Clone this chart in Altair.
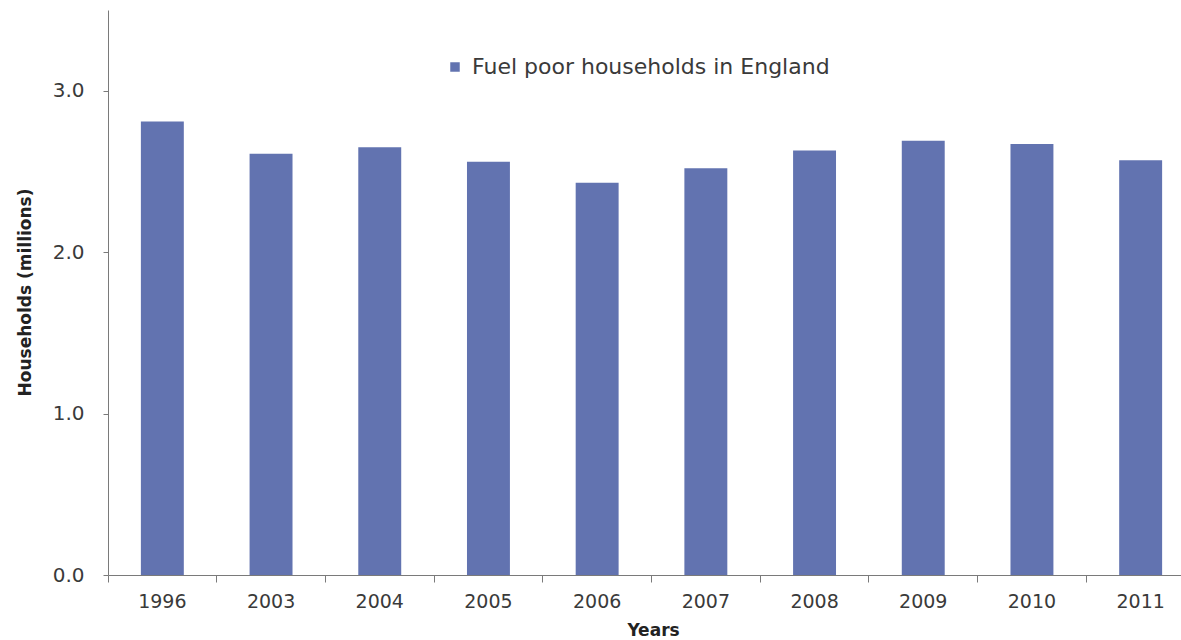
import altair as alt
import pandas as pd

years = ["1996", "2003", "2004", "2005", "2006", "2007", "2008", "2009", "2010", "2011"]
households = [2.81, 2.61, 2.65, 2.56, 2.43, 2.52, 2.63, 2.69, 2.67, 2.57]
series_name = "Fuel poor households in England"
y_ticks = [0, 1, 2, 3]

df = pd.DataFrame({"Year": years, "Households": households, "series": [series_name] * len(years)})

FONT = "DejaVu Sans"
AXIS_COLOR = "#7a7a7a"
TEXT_COLOR = "#3a3a3a"

chart = alt.Chart(df).mark_bar(width=alt.RelativeBandSize(0.395)).encode(
    x=alt.X(
        "Year:N",
        sort=years,
        scale=alt.Scale(range=[0, 1087], paddingInner=0, paddingOuter=0),
        axis=alt.Axis(
            title="Years",
            labelAngle=0,
            bandPosition=0,
            tickSize=7,
            labelPadding=10,
            labelFontSize=19,
            labelFont=FONT,
            labelColor=TEXT_COLOR,
            titleFont=FONT,
            titleFontSize=17,
            titleFontWeight="bold",
            titleColor="#222222",
            titleX=545,
            titleY=55,
            titleBaseline="middle",
            titleAlign="center",
            domainColor=AXIS_COLOR,
            tickColor=AXIS_COLOR,
            grid=False,
        ),
    ),
    y=alt.Y(
        "Households:Q",
        scale=alt.Scale(domain=[0, 3.5], nice=False),
        axis=alt.Axis(
            title="Households (millions)",
            values=y_ticks,
            format=".1f",
            tickSize=5,
            labelPadding=19,
            labelFontSize=20,
            labelFont=FONT,
            labelColor=TEXT_COLOR,
            titleFont=FONT,
            titleFontSize=17,
            titleFontWeight="bold",
            titleColor="#222222",
            titleX=-83,
            titleY=282,
            titleAngle=270,
            titleBaseline="middle",
            titleAlign="center",
            domainColor=AXIS_COLOR,
            tickColor=AXIS_COLOR,
            grid=False,
        ),
    ),
    color=alt.Color(
        "series:N",
        scale=alt.Scale(range=["#6273b0"]),
        legend=alt.Legend(
            title=None,
            orient="none",
            legendX=336,
            legendY=46,
            symbolType="square",
            symbolSize=90,
            symbolStrokeWidth=0,
            labelFont=FONT,
            labelFontSize=22,
            labelColor=TEXT_COLOR,
            labelOffset=6,
            labelLimit=0,
        ),
    ),
).properties(
    width=1073,
    height=565,
    background="white",
    autosize=alt.AutoSizeParams(type="none"),
    padding={"left": 108, "top": 10, "right": 0, "bottom": 65},
).configure_view(stroke=None)

chart.save("out.html", embed_options={"renderer": "svg", "actions": False})
